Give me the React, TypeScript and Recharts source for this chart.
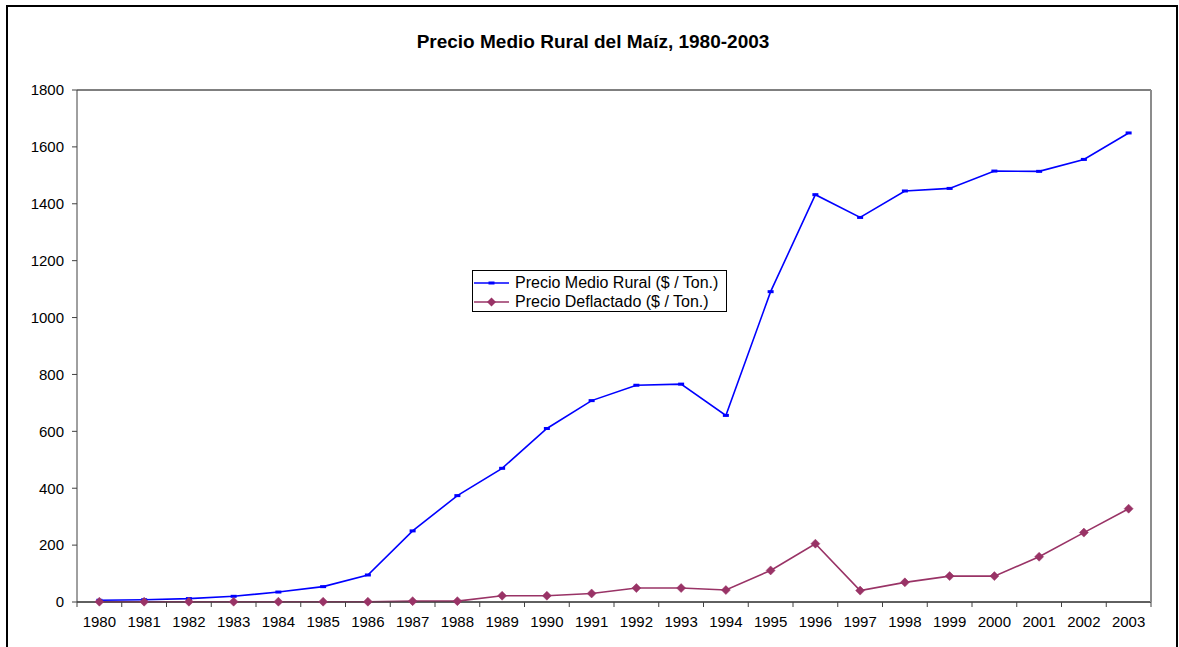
import React from 'react';
import { LineChart, Line, XAxis, YAxis, CartesianGrid, Legend } from 'recharts';

// Precio medio rural del maíz, 1980-2003 ($ / Ton.)
const years = [
  '1980', '1981', '1982', '1983', '1984', '1985', '1986', '1987', '1988', '1989', '1990', '1991',
  '1992', '1993', '1994', '1995', '1996', '1997', '1998', '1999', '2000', '2001', '2002', '2003',
];
const precioMedioRural = [
  6, 8, 12, 20, 35, 54, 95, 250, 374, 470, 610, 708,
  762, 766, 656, 1091, 1432, 1352, 1445, 1454, 1515, 1514, 1556, 1649,
];
const precioDeflactado = [
  1, 1, 1, 1, 1, 1, 1, 3, 3, 22, 22, 30,
  49, 49, 42, 111, 205, 40, 69, 91, 91, 159, 244, 328,
];
const yTicks = [0, 200, 400, 600, 800, 1000, 1200, 1400, 1600, 1800];

const SERIE_RURAL = 'Precio Medio Rural ($ / Ton.)';
const SERIE_DEFLACTADO = 'Precio Deflactado ($ / Ton.)';

const BLUE = '#0000FF';
const PLUM = '#993366';
const FONT = '"Liberation Sans", Arial, Helvetica, sans-serif';

const data = years.map((year, i) => ({
  year,
  rural: precioMedioRural[i],
  deflactado: precioDeflactado[i],
}));

const SquareDot = (props: any) => {
  const { cx, cy } = props;
  if (cx == null || cy == null) return null;
  return <rect x={cx - 3} y={cy - 1.5} width={6} height={3} fill={BLUE} />;
};

const DiamondDot = (props: any) => {
  const { cx, cy } = props;
  if (cx == null || cy == null) return null;
  const r = 4.5;
  return (
    <polygon
      points={`${cx},${cy - r} ${cx + r},${cy} ${cx},${cy + r} ${cx - r},${cy}`}
      fill={PLUM}
      stroke={PLUM}
      strokeWidth={0.5}
    />
  );
};

// Year labels centred in each band, tick marks on the band boundaries
const TICK_SIZE = 5;
const TICK_MARGIN = 9;
const YearTick = (props: any) => {
  const { x, y, payload, index, visibleTicksCount } = props;
  const half = typeof payload?.offset === 'number' && payload.offset > 0 ? payload.offset : 22.4;
  const axisY = y - TICK_SIZE - TICK_MARGIN;
  return (
    <g>
      <line x1={x - half} x2={x - half} y1={axisY} y2={axisY + TICK_SIZE} stroke="#404040" />
      {index === visibleTicksCount - 1 && (
        <line x1={x + half} x2={x + half} y1={axisY} y2={axisY + TICK_SIZE} stroke="#404040" />
      )}
      <text x={x} y={axisY + 25} textAnchor="middle" fontSize={15} fontFamily={FONT} fill="#000">
        {payload.value}
      </text>
    </g>
  );
};

const LegendBox = () => {
  const rows = [
    { label: SERIE_RURAL, color: BLUE, marker: 'square' },
    { label: SERIE_DEFLACTADO, color: PLUM, marker: 'diamond' },
  ];
  return (
    <div
      style={{
        boxSizing: 'border-box',
        width: 255,
        height: 42,
        border: '1px solid #000',
        background: '#fff',
        padding: '2px 0 0 1px',
        fontFamily: FONT,
        fontSize: 16,
        color: '#000',
      }}
    >
      {rows.map((r) => (
        <div key={r.label} style={{ display: 'flex', alignItems: 'center', height: 19, whiteSpace: 'nowrap' }}>
          <svg width={36} height={12} style={{ marginRight: 5, flex: 'none' }}>
            <line x1={0} x2={35} y1={6} y2={6} stroke={r.color} strokeWidth={1.5} />
            {r.marker === 'square' ? (
              <rect x={14.5} y={4.5} width={6} height={3} fill={r.color} />
            ) : (
              <polygon points="17.5,1.5 22,6 17.5,10.5 13,6" fill={r.color} />
            )}
          </svg>
          <span>{r.label}</span>
        </div>
      ))}
    </div>
  );
};

export default function App() {
  return (
    <div
      style={{
        position: 'absolute',
        left: 0,
        top: 0,
        width: 1179,
        height: 647,
        overflow: 'hidden',
        background: '#fff',
      }}
    >
      <div
        style={{
          position: 'absolute',
          left: 6,
          top: 5,
          width: 1172,
          height: 800,
          boxSizing: 'border-box',
          border: '2px solid #000',
        }}
      />
      <div
        style={{
          position: 'absolute',
          left: 0,
          top: 31,
          width: 1186,
          textAlign: 'center',
          fontFamily: FONT,
          fontWeight: 'bold',
          fontSize: 19,
          color: '#000',
        }}
      >
        Precio Medio Rural del Maíz, 1980-2003
      </div>
      <div style={{ position: 'absolute', left: 0, top: 0 }}>
        <LineChart width={1179} height={647} data={data} margin={{ top: 90, right: 0, bottom: 0, left: 0 }}>
          <CartesianGrid vertical={false} stroke="#000" strokeWidth={1} />
          <XAxis
            dataKey="year"
            scale="band"
            height={45}
            tickLine={false}
            tickSize={TICK_SIZE}
            tickMargin={TICK_MARGIN}
            axisLine={{ stroke: '#404040' }}
            tick={<YearTick />}
            interval={0}
          />
          <YAxis
            yAxisId="left"
            width={77}
            domain={[0, 1800]}
            ticks={yTicks}
            interval={0}
            tickSize={5}
            tickMargin={8}
            tickLine={{ stroke: '#404040' }}
            axisLine={{ stroke: '#404040' }}
            tick={{ fontSize: 15, fill: '#000', fontFamily: FONT }}
          />
          <YAxis
            yAxisId="right"
            orientation="right"
            width={28}
            domain={[0, 1800]}
            tick={false}
            tickLine={false}
            axisLine={{ stroke: '#8c8c8c', strokeWidth: 2 }}
          />
          <Legend
            layout="vertical"
            align="center"
            verticalAlign="middle"
            content={<LegendBox />}
            wrapperStyle={{ position: 'absolute', left: 472, top: 270, width: 255, height: 42 }}
          />
          <Line
            yAxisId="left"
            type="linear"
            dataKey="rural"
            name={SERIE_RURAL}
            stroke={BLUE}
            strokeWidth={1.6}
            dot={<SquareDot />}
            activeDot={false}
            isAnimationActive={false}
          />
          <Line
            yAxisId="left"
            type="linear"
            dataKey="deflactado"
            name={SERIE_DEFLACTADO}
            stroke={PLUM}
            strokeWidth={1.6}
            dot={<DiamondDot />}
            activeDot={false}
            isAnimationActive={false}
          />
        </LineChart>
      </div>
    </div>
  );
}
